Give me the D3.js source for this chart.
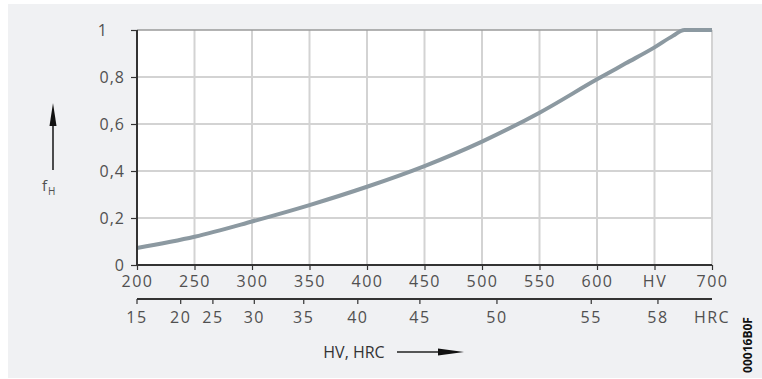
<!DOCTYPE html>
<html><head><meta charset="utf-8">
<script src="https://cdn.jsdelivr.net/npm/d3@7"></script>
<style>
html,body{margin:0;padding:0;background:#fff;}
svg{display:block;}
text{font-family:"Open Sans","DejaVu Sans",sans-serif;}
</style></head>
<body>
<svg id="c" width="762" height="379"></svg>
<script>
// ---- data ----
const hvValues = [200, 250, 300, 350, 400, 450, 500, 550, 600, 625, 650, 666, 676, 700];
const fhValues = [0.072, 0.12, 0.185, 0.255, 0.333, 0.421, 0.525, 0.648, 0.79, 0.858, 0.926, 0.975, 1.0, 1.0];
const hvTicks = [200, 250, 300, 350, 400, 450, 500, 550, 600, 650, 700];
const hvTickLabels = ["200", "250", "300", "350", "400", "450", "500", "550", "600", "HV", "700"];
const hrcTicks = [15, 20, 25, 30, 35, 40, 45, 50, 55, 58];
const hrcAsHv = [200, 238, 266, 302, 345, 392, 446, 513, 595, 653];
const fTicks = [0, 0.2, 0.4, 0.6, 0.8, 1];
const fTickLabels = ["0", "0,2", "0,4", "0,6", "0,8", "1"];

const svg = d3.select("#c");
const L = 137, R = 712, T = 30, B = 265;
const x = d3.scaleLinear().domain([200, 700]).range([L, R]);
const y = d3.scaleLinear().domain([0, 1]).range([B, T]);

// background
svg.append("rect").attr("x", 8).attr("y", 4).attr("width", 754).attr("height", 374).attr("fill", "#f0f1f3");
svg.append("rect").attr("x", L).attr("y", T).attr("width", R - L).attr("height", B - T).attr("fill", "#fff");

// grid
const grid = svg.append("g").attr("stroke", "#d3d3d3").attr("stroke-width", 2);
hvTicks.slice(1).forEach(v => {
  grid.append("line").attr("x1", x(v)).attr("x2", x(v)).attr("y1", T).attr("y2", B);
});
fTicks.slice(1, -1).forEach(v => {
  grid.append("line").attr("x1", L).attr("x2", R).attr("y1", y(v)).attr("y2", y(v));
});
svg.append("line").attr("x1", L).attr("x2", R).attr("y1", T).attr("y2", T)
  .attr("stroke", "#9a9a9a").attr("stroke-width", 1.5);

// curve
const line = d3.line().x((d, i) => x(hvValues[i])).y(d => y(d)).curve(d3.curveMonotoneX);
svg.append("path").attr("d", line(fhValues)).attr("fill", "none")
  .attr("stroke", "#8c99a1").attr("stroke-width", 4).attr("stroke-linecap", "butt");

const labelColor = "#505050";
const fs = 16;

// y axis
const yAxis = d3.axisLeft(y).tickValues(fTicks).tickSize(6).tickPadding(5)
  .tickFormat((d, i) => fTickLabels[i]);
const gy = svg.append("g").attr("transform", `translate(${L},0)`).call(yAxis);
gy.select(".domain").attr("stroke", "#333").attr("stroke-width", 2).attr("d", `M0,${T}V${B}`);
gy.selectAll(".tick line").attr("stroke", "#333").attr("stroke-width", 1.2);
gy.selectAll(".tick text").attr("font-size", fs).attr("fill", labelColor)
  .attr("font-family", "Open Sans, sans-serif").style("letter-spacing", "1px")
  .attr("x", d => d === 1 ? -29 : -12).attr("dy", "0.35em");

// x axis (HV)
const xAxis = d3.axisBottom(x).tickValues(hvTicks).tickSize(5).tickPadding(6)
  .tickFormat((d, i) => hvTickLabels[i]);
const gx = svg.append("g").attr("transform", `translate(0,${B})`).call(xAxis);
gx.select(".domain").attr("stroke", "#333").attr("stroke-width", 2).attr("d", `M${L},0H${R}`);
gx.selectAll(".tick line").attr("stroke", "#333").attr("stroke-width", 1.2);
gx.selectAll(".tick text").attr("font-size", fs).attr("fill", labelColor)
  .attr("font-family", "Open Sans, sans-serif").style("letter-spacing", "1.5px");

// second axis (HRC)
const hrcY = 299;
const gh = svg.append("g").attr("transform", `translate(0,${hrcY})`);
gh.append("line").attr("x1", L).attr("x2", R).attr("y1", 0).attr("y2", 0)
  .attr("stroke", "#333").attr("stroke-width", 2);
hrcTicks.forEach((t, i) => {
  gh.append("line").attr("x1", x(hrcAsHv[i])).attr("x2", x(hrcAsHv[i])).attr("y1", 0).attr("y2", 5)
    .attr("stroke", "#333").attr("stroke-width", 1.2);
  gh.append("text").attr("x", x(hrcAsHv[i])).attr("y", 18).attr("dy", "0.35em")
    .attr("text-anchor", "middle").attr("font-size", fs).attr("fill", labelColor)
    .style("letter-spacing", "1.5px").text(String(t));
});
gh.append("text").attr("x", x(700)).attr("y", 18).attr("dy", "0.35em")
  .attr("text-anchor", "middle").attr("font-size", fs).attr("fill", labelColor)
  .style("letter-spacing", "1.5px").text("HRC");

// y axis title with arrow
const ax = 53;
svg.append("line").attr("x1", ax).attr("x2", ax).attr("y1", 170).attr("y2", 118)
  .attr("stroke", "#222").attr("stroke-width", 1.6);
svg.append("path").attr("d", `M${ax},103L${ax + 3.5},126L${ax - 3.5},126Z`).attr("fill", "#111");
const ft = svg.append("text").attr("x", 42).attr("y", 191).attr("font-size", 15).attr("fill", labelColor);
ft.append("tspan").text("f");
ft.append("tspan").attr("font-size", 10).attr("dy", 4).attr("dx", 1).text("H");

// x axis title with arrow
svg.append("text").attr("x", 354).attr("y", 352).attr("dy", "0.35em").attr("text-anchor", "middle")
  .attr("font-size", 16).attr("fill", "#333").text("HV, HRC");
svg.append("line").attr("x1", 397).attr("x2", 445).attr("y1", 352).attr("y2", 352)
  .attr("stroke", "#222").attr("stroke-width", 1.6);
svg.append("path").attr("d", `M464,352L438,348.5L438,355.5Z`).attr("fill", "#111");

// figure code
svg.append("text").attr("transform", "translate(752,345) rotate(-90)").attr("text-anchor", "middle")
  .attr("font-size", 12).attr("font-weight", "bold").attr("fill", "#111")
  .attr("font-family", "DejaVu Sans, sans-serif").text("00016B0F");
</script>
</body></html>
